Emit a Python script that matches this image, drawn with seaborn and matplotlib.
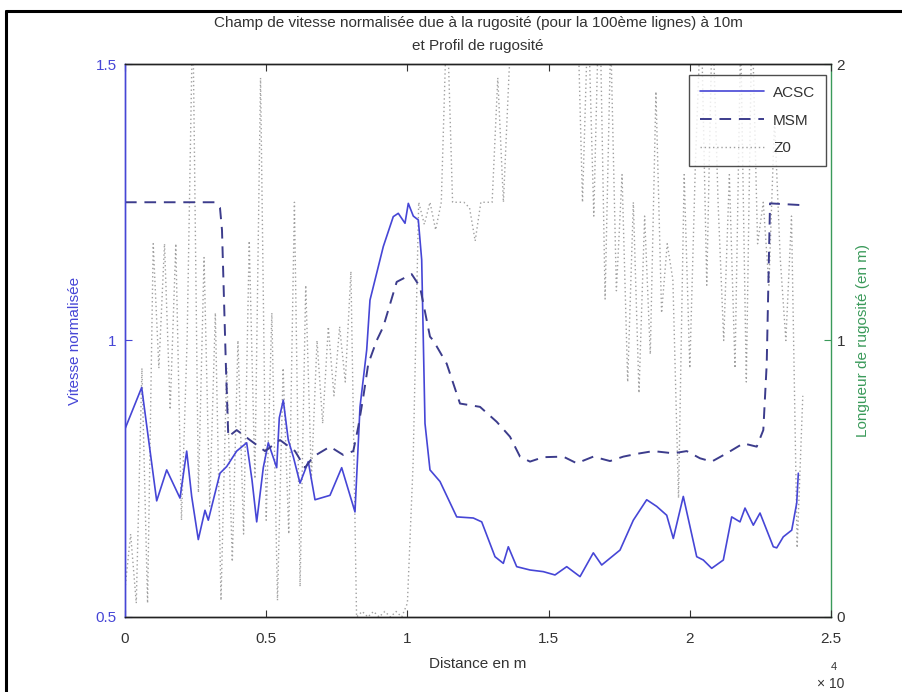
import matplotlib
matplotlib.use("Agg")
import matplotlib.pyplot as plt
from matplotlib.lines import Line2D
from matplotlib.ticker import FixedLocator, FuncFormatter
import numpy as np
import pandas as pd
import seaborn as sns

# --- data -------------------------------------------------------------
# ACSC normalised speed along the line (distance in m)
acsc_dist = [0, 591, 1123, 1477, 1948, 2185, 2362, 2596, 2833, 2950, 3364, 3601,
             3955, 4309, 4497, 4664, 4897, 5074, 5241, 5372, 5464, 5605, 5782,
             5959, 6197, 6491, 6728, 7259, 7673, 8144, 8322, 8559, 8675, 9147,
             9500, 9677, 9915, 10032, 10209, 10386, 10506, 10623, 10800, 11154,
             11746, 12333, 12631, 13102, 13396, 13573, 13870, 14341, 14812,
             15226, 15641, 16112, 16583, 16880, 17528, 17999, 18473, 18827,
             19181, 19415, 19769, 20244, 20478, 20775, 21186, 21483, 21777,
             21954, 22248, 22485, 22956, 23077, 23310, 23608, 23785, 23842]
acsc_val = [0.84, 0.915, 0.71, 0.766, 0.715, 0.80, 0.718, 0.64, 0.693, 0.675,
            0.76, 0.772, 0.80, 0.815, 0.748, 0.672, 0.77, 0.815, 0.79, 0.77,
            0.86, 0.892, 0.82, 0.79, 0.742, 0.781, 0.712, 0.72, 0.77, 0.69,
            0.88, 0.983, 1.073, 1.17, 1.224, 1.23, 1.212, 1.248, 1.225, 1.218,
            1.146, 0.85, 0.766, 0.745, 0.681, 0.679, 0.672, 0.609, 0.597,
            0.627, 0.591, 0.585, 0.582, 0.576, 0.591, 0.573, 0.616, 0.594,
            0.621, 0.675, 0.712, 0.70, 0.684, 0.642, 0.718, 0.609, 0.603,
            0.588, 0.603, 0.681, 0.672, 0.697, 0.666, 0.688, 0.627, 0.625,
            0.645, 0.657, 0.706, 0.76]

# MSM normalised speed
msm_dist = [0, 3187, 3364, 3435, 3576, 3658, 3955, 4426, 4957, 5489, 6020, 6374,
            6668, 7259, 7730, 8084, 8261, 8438, 8615, 8913, 9147, 9621, 10152,
            10446, 10800, 10917, 11392, 11862, 12571, 13162, 13633, 13987,
            14341, 14812, 15520, 15995, 16583, 17174, 17645, 18119, 18707,
            19415, 19889, 20360, 20775, 21306, 21894, 22369, 22602, 22723,
            22840, 23902]
msm_val = [1.25, 1.25, 1.24, 1.2, 0.95, 0.826, 0.838, 0.82, 0.80, 0.82, 0.80,
           0.77, 0.79, 0.808, 0.793, 0.80, 0.844, 0.898, 0.958, 1.0, 1.025,
           1.106, 1.12, 1.097, 1.007, 1.0, 0.958, 0.886, 0.88, 0.853, 0.826,
           0.79, 0.781, 0.789, 0.79, 0.778, 0.79, 0.782, 0.79, 0.795, 0.80,
           0.796, 0.80, 0.787, 0.781, 0.796, 0.814, 0.808, 0.838, 0.958,
           1.248, 1.245]

# Z0 roughness length (m), one sample every 200 m
z0_step = 200
z0_val = [0.10, 0.30, 0.05, 0.90, 0.05, 1.35, 0.90, 1.35, 0.75, 1.35,
          0.35, 1.00, 2.20, 0.45, 1.30, 0.40, 1.10, 0.06, 0.90, 0.20,
          1.00, 0.30, 1.36, 0.50, 1.95, 0.35, 1.10, 0.06, 0.90, 0.30,
          1.50, 0.11, 1.20, 0.50, 1.00, 0.70, 1.05, 0.80, 1.05, 0.85,
          1.25, 0.00, 0.02, 0.00, 0.02, 0.00, 0.02, 0.00, 0.02, 0.00,
          0.05, 0.55, 1.50, 1.42, 1.50, 1.40, 1.50, 2.20, 1.50, 1.50,
          1.50, 1.48, 1.36, 1.50, 1.50, 1.50, 1.95, 1.50, 1.97, 2.30,
          2.40, 2.30, 2.50, 2.30, 2.40, 2.30, 2.50, 2.30, 2.40, 2.20,
          2.30, 1.50, 2.20, 1.45, 2.30, 1.15, 2.10, 1.18, 1.60, 0.85,
          1.50, 0.81, 1.45, 0.95, 1.90, 1.10, 1.35, 1.22, 0.43, 1.60,
          0.90, 1.65, 2.20, 1.20, 2.20, 1.50, 1.00, 1.60, 0.90, 2.10,
          0.85, 2.20, 1.35, 1.50, 1.20, 1.80, 1.30, 1.00, 1.45, 0.25,
          0.80]
z0_dist = [i * z0_step for i in range(len(z0_val))]

x_ticks = [0, 5000, 10000, 15000, 20000, 25000]
left_ticks = [0.5, 1.0, 1.5]
right_ticks = [0, 1, 2]

title_text = ("Champ de vitesse normalisée due à la rugosité (pour la 100ème lignes) à 10m\n"
              "et Profil de rugosité")

# --- styling ----------------------------------------------------------
sns.set_style("white")
plt.rcParams["font.family"] = ["Liberation Sans", "DejaVu Sans"]

BLUE = "#4646d6"
MSM_C = "#3c3c8c"
GREEN = "#3a9a5a"
GREY_Z0 = "#a0a0a0"
TXT = "#333333"
FS = 11

acsc = pd.DataFrame({"d": acsc_dist, "v": acsc_val})
msm = pd.DataFrame({"d": msm_dist, "v": msm_val})
z0 = pd.DataFrame({"d": z0_dist, "v": z0_val})

fig = plt.figure(figsize=(9.03, 6.92), dpi=100)
ax = fig.add_axes([0.1384, 0.1084, 0.7819, 0.7991])
ax2 = ax.twinx()

sns.lineplot(data=z0, x="d", y="v", ax=ax2, color=GREY_Z0, linewidth=1.0,
             linestyle=(0, (1, 2)), estimator=None, sort=False, label="Z0",
             legend=False)
sns.lineplot(data=acsc, x="d", y="v", ax=ax, color=BLUE, linewidth=1.2,
             estimator=None, sort=False, label="ACSC", legend=False)
sns.lineplot(data=msm, x="d", y="v", ax=ax, color=MSM_C, linewidth=1.4,
             linestyle=(0, (6, 4)), estimator=None, sort=False, label="MSM",
             legend=False)

ax.set_zorder(ax2.get_zorder() + 1)
ax.patch.set_visible(False)

ax.set_xlim(0, 25000)
ax.set_ylim(0.5, 1.5)
ax2.set_ylim(0, 2)

ax.xaxis.set_major_locator(FixedLocator(x_ticks))
ax.xaxis.set_major_formatter(FuncFormatter(lambda v, p: f"{v / 1e4:g}"))
ax.yaxis.set_major_locator(FixedLocator(left_ticks))
ax.yaxis.set_major_formatter(FuncFormatter(lambda v, p: f"{v:g}"))
ax2.yaxis.set_major_locator(FixedLocator(right_ticks))

ax.tick_params(axis="x", direction="in", length=5, width=0.8, colors=TXT,
               labelsize=FS, top=True, bottom=True, pad=11)
ax.tick_params(axis="y", direction="in", length=5, width=0.8, colors=BLUE,
               labelsize=FS, pad=6)
ax2.tick_params(axis="y", direction="in", length=5, width=0.8, colors=GREEN,
                labelsize=FS, pad=4)
ax2.tick_params(axis="y", labelcolor=TXT)

for a in (ax, ax2):
    for s in a.spines.values():
        s.set_linewidth(1.0)
        s.set_color("#222222")
ax.spines["left"].set_color(BLUE)
ax2.spines["left"].set_color(BLUE)
ax2.spines["right"].set_color(GREEN)
ax.spines["right"].set_visible(False)

ax.set_xlabel("Distance en m", fontsize=FS, color=TXT, labelpad=8)
ax.set_ylabel("Vitesse normalisée", fontsize=FS, color=BLUE, labelpad=10)
ax2.set_ylabel("Longueur de rugosité (en m)", fontsize=FS, color=GREEN, labelpad=8)
ax.set_title(title_text, fontsize=FS, color=TXT, pad=10, linespacing=1.85)

# exponent of the distance axis
ax.text(1.0, -0.122, "× 10", transform=ax.transAxes, ha="center", va="center",
        fontsize=FS - 1, color=TXT)
ax.text(1.004, -0.091, "4", transform=ax.transAxes, ha="center", va="center",
        fontsize=FS - 3, color=TXT)

handles = ax.get_lines()[:2] + ax2.get_lines()[:1]
leg = ax.legend(handles=handles, labels=["ACSC", "MSM", "Z0"],
                loc="upper right", bbox_to_anchor=(0.993, 0.980), fontsize=FS,
                frameon=True, fancybox=False, edgecolor="#222222",
                handlelength=4.2, handletextpad=0.6, borderpad=0.7,
                labelspacing=0.9, borderaxespad=0)
leg.get_frame().set_linewidth(1.0)
for t in leg.get_texts():
    t.set_color(TXT)

# outer frame of the figure window
fig.add_artist(Line2D([6 / 903, 6 / 903], [0, 1 - 11 / 692], transform=fig.transFigure,
                      color="black", linewidth=2.2))
fig.add_artist(Line2D([6 / 903, 1], [1 - 11 / 692, 1 - 11 / 692], transform=fig.transFigure,
                      color="black", linewidth=2.2))

fig.savefig("out.png", dpi=100, facecolor="white")
